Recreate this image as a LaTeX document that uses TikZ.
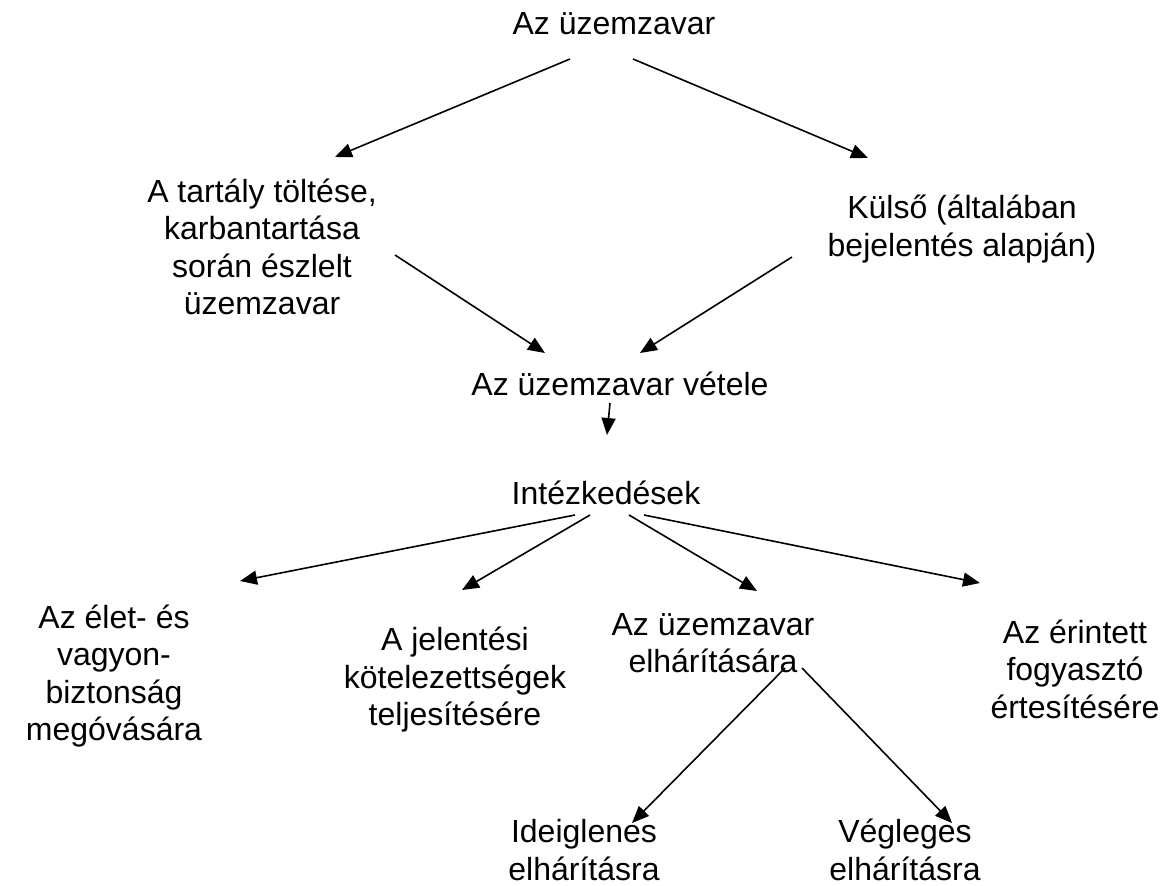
\documentclass[tikz,border=0pt]{standalone}
\usepackage{fontspec}
\setmainfont{Liberation Sans}
\usetikzlibrary{arrows.meta}
\begin{document}
\begin{tikzpicture}[x=1pt,y=-1pt,
  lbl/.style={align=center,inner sep=0pt,font=\fontsize{32}{37.5}\selectfont},
  arr/.style={line width=1.6pt,-{Triangle[length=17pt,width=14pt]}}]
\useasboundingbox[fill=white] (0,0) rectangle (1171,886);
\node[lbl] (top) at (614,24) {Az üzemzavar};
\node[lbl] (tart) at (262,247) {A tartály töltése,\\karbantartása\\során észlelt\\üzemzavar};
\node[lbl] (kul) at (962,229) {Külső (általában\\bejelentés alapján)};
\node[lbl] (vet) at (620,384) {Az üzemzavar vétele};
\node[lbl] (int) at (606,493) {Intézkedések};
\node[lbl] (elet) at (114,676) {Az élet- és\\vagyon-\\biztonság\\megóvására};
\node[lbl] (jel) at (455,680) {A jelentési\\kötelezettségek\\teljesítésére};
\node[lbl] (elh) at (713,643) {Az üzemzavar\\elhárítására};
\node[lbl] (eri) at (1075,669) {Az érintett\\fogyasztó\\értesítésére};
\node[lbl] (ide) at (584,850) {Ideiglenes\\elhárításra};
\node[lbl] (veg) at (905,850) {Végleges\\elhárításra};
% connector end points
\coordinate (t1) at (570,59);  \coordinate (t2) at (633,59);
\coordinate (ta) at (335,157); \coordinate (ka) at (868,158);
\coordinate (tb) at (395,255); \coordinate (kb) at (792,257);
\coordinate (va) at (545,353); \coordinate (vb) at (640,353);
\coordinate (vs) at (610,403); \coordinate (ie) at (607,435);
\coordinate (i1) at (575,515); \coordinate (i2) at (590,515);
\coordinate (i3) at (629,515); \coordinate (i4) at (644,515);
\coordinate (ea) at (240,581); \coordinate (ja) at (462,590);
\coordinate (ha) at (757,591); \coordinate (ra) at (980,583);
\coordinate (h1) at (785,668); \coordinate (h2) at (802,668);
\coordinate (da) at (632,823); \coordinate (ga) at (952,823);
\draw[arr] (t1) -- (ta);
\draw[arr] (t2) -- (ka);
\draw[arr] (tb) -- (va);
\draw[arr] (kb) -- (vb);
\draw[arr] (vs) -- (ie);
\draw[arr] (i1) -- (ea);
\draw[arr] (i2) -- (ja);
\draw[arr] (i3) -- (ha);
\draw[arr] (i4) -- (ra);
\draw[arr] (h1) -- (da);
\draw[arr] (h2) -- (ga);
\end{tikzpicture}
\end{document}
